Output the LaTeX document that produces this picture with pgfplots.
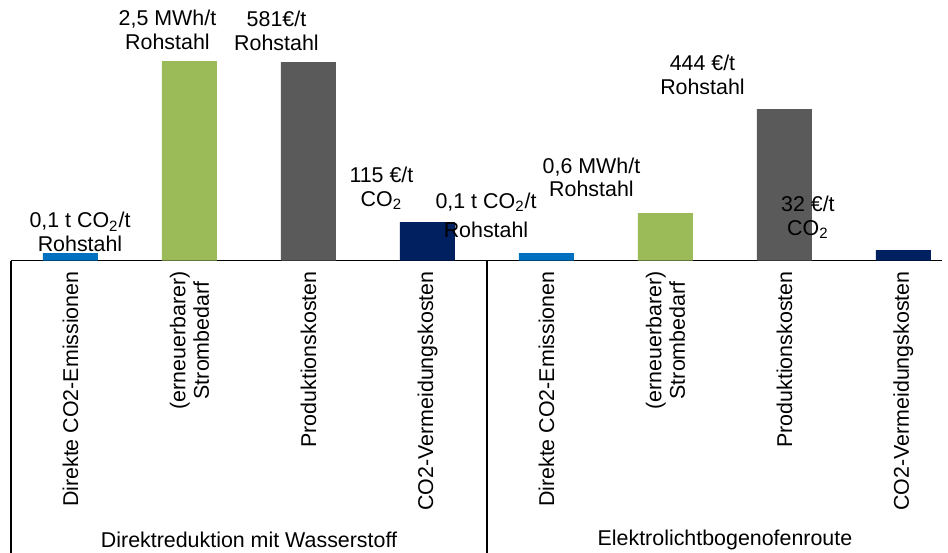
\documentclass[border=0pt]{standalone}
\usepackage{fontspec}
\setmainfont{Liberation Sans}
\usepackage{pgfplots}
\pgfplotsset{compat=1.18}
\definecolor{cblue}{HTML}{0070C0}
\definecolor{cgreen}{HTML}{9BBB59}
\definecolor{cgray}{HTML}{5A5A5A}
\definecolor{cnavy}{HTML}{002060}
\newcommand{\fs}{\fontsize{10.7}{11.8}\selectfont}
\begin{document}
\begin{tikzpicture}
\begin{axis}[name=ax, scale only axis, width=465.5pt, height=130.25pt,
  xmin=-0.5, xmax=7.324, ymin=0, ymax=260.5,
  axis x line*=bottom, axis y line=none,
  x axis line style={black, line width=0.75pt},
  xtick={0,...,7}, xtick style={draw=none}, ytick=\empty,
  xticklabels={Direkte CO2-Emissionen,{(erneuerbarer)\\Strombedarf},Produktionskosten,CO2-Vermeidungskosten,
               Direkte CO2-Emissionen,{(erneuerbarer)\\Strombedarf},Produktionskosten,CO2-Vermeidungskosten},
  xticklabel style={rotate=90, anchor=east, align=center, font=\fs, inner sep=0pt, xshift=-1pt},
  clip=false, ybar, bar shift=0pt, bar width=27.5pt]
\addplot[fill=cblue, draw=none] coordinates {(0,7.5) (4,7.5)};
\addplot[fill=cgreen, draw=none] coordinates {(1,199.5) (5,47.5)};
\addplot[fill=cgray, draw=none] coordinates {(2,198.5) (6,151.5)};
\addplot[fill=cnavy, draw=none] coordinates {(3,38.5) (7,10.5)};
\draw[black, line width=0.75pt] (axis cs:-0.5,0) -- ([yshift=-146pt]axis cs:-0.5,0);
\draw[black, line width=0.75pt] (axis cs:3.5,0) -- ([yshift=-146pt]axis cs:3.5,0);
\node[font=\fs] at ([yshift=-139.5pt]axis cs:1.5,0) {Direktreduktion mit Wasserstoff};
\node[font=\fs] at ([yshift=-139.5pt]axis cs:5.5,0) {Elektrolichtbogenofenroute};
\node[font=\fs, align=center, inner sep=0pt] at (axis cs:0.080,28.5) {0,1 t CO\textsubscript{2}/t\\Rohstahl};
\node[font=\fs, align=center, inner sep=0pt] at (axis cs:0.815,230.5) {2,5 MWh/t\\Rohstahl};
\node[font=\fs, align=center, inner sep=0pt] at (axis cs:1.731,229.5) {581€/t\\Rohstahl};
\node[font=\fs, align=center, inner sep=0pt] at (axis cs:2.613,72) {115 €/t\\CO\textsubscript{2}};
\node[font=\fs, align=center, inner sep=0pt] at (axis cs:3.492,45) {0,1 t CO\textsubscript{2}/t\\[3pt]Rohstahl};
\node[font=\fs, align=center, inner sep=0pt] at (axis cs:4.378,83) {0,6 MWh/t\\Rohstahl};
\node[font=\fs, align=center, inner sep=0pt] at (axis cs:5.311,185.5) {444 €/t\\Rohstahl};
\node[font=\fs, align=center, inner sep=0pt] at (axis cs:6.197,43) {32 €/t\\CO\textsubscript{2}};
\end{axis}
\pgfresetboundingbox
\useasboundingbox ([xshift=-5.5pt,yshift=-146pt]ax.south west) rectangle ([xshift=3pt]ax.north east);
\end{tikzpicture}
\end{document}
